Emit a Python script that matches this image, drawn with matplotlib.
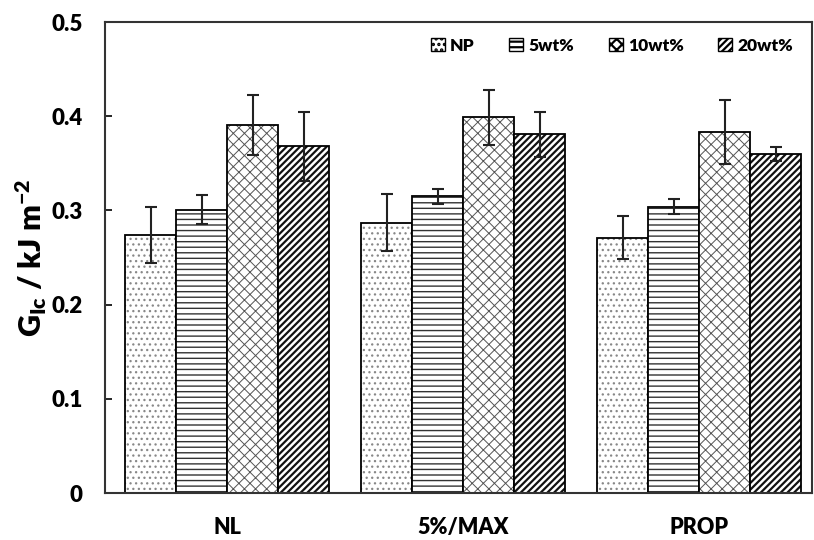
import numpy as np
import matplotlib
matplotlib.use('Agg')
import matplotlib.pyplot as plt

plt.rcParams['font.family'] = ['Lato', 'DejaVu Sans']
plt.rcParams['font.weight'] = 'heavy'
plt.rcParams['mathtext.fontset'] = 'custom'
plt.rcParams['mathtext.rm'] = 'Lato:heavy'
plt.rcParams['mathtext.bf'] = 'Lato:heavy'
plt.rcParams['mathtext.it'] = 'Lato:heavy'

groups = ['NL', '5%/MAX', 'PROP']
series = ['NP', '5wt%', '10wt%', '20wt%']

np_vals = [0.274, 0.287, 0.271]
np_err = [0.030, 0.030, 0.023]
wt5_vals = [0.301, 0.315, 0.304]
wt5_err = [0.015, 0.008, 0.008]
wt10_vals = [0.391, 0.399, 0.383]
wt10_err = [0.032, 0.029, 0.034]
wt20_vals = [0.368, 0.381, 0.360]
wt20_err = [0.037, 0.024, 0.007]

values = [np_vals, wt5_vals, wt10_vals, wt20_vals]
errors = [np_err, wt5_err, wt10_err, wt20_err]
hatches = ['...', '---', 'xxx', '/////']
hatch_cols = ['#888888', '#333333', '#555555', '#111111']
hatch_lws = [0.9, 1.0, 0.7, 1.6]

fig = plt.figure(figsize=(8.14, 5.4), dpi=100)
ax = fig.add_axes([0.129, 0.087, 0.869, 0.872])

x = np.arange(len(groups))
w = 0.216
for i in range(4):
    pos = x + (i - 1.5) * w
    plt.rcParams['hatch.linewidth'] = hatch_lws[i]
    ax.bar(pos, values[i], w, color='white', edgecolor=hatch_cols[i], linewidth=0,
           hatch=hatches[i], label=series[i])
    ax.bar(pos, values[i], w, color='none', edgecolor='black', linewidth=1.3)
    ax.errorbar(pos, values[i], yerr=errors[i], fmt='none', ecolor='#222222',
                elinewidth=1.5, capsize=4, capthick=1.5)

ax.set_xlim(-0.517, 2.48)
ax.set_ylim(0, 0.5)
ax.set_yticks([0, 0.1, 0.2, 0.3, 0.4, 0.5])
ax.set_yticklabels(['0', '0.1', '0.2', '0.3', '0.4', '0.5'])
ax.set_xticks(x)
ax.set_xticklabels(groups)
ax.tick_params(axis='y', direction='in', length=5, width=1.2, labelsize=16, pad=16)
ax.tick_params(axis='x', length=0, labelsize=15.5, pad=17)
for s in ax.spines.values():
    s.set_linewidth(1.5)
    s.set_color('#333333')

ax.set_ylabel('G$_{\\mathrm{Ic}}$ / kJ m$^{\\mathrm{-2}}$', fontsize=22, fontweight='heavy', labelpad=2)

leg = ax.legend(loc='upper right', ncol=4, frameon=False, fontsize=12.5, handlelength=0.8,
                handleheight=0.8, columnspacing=2.0, handletextpad=0.3,
                bbox_to_anchor=(0.995, 1.0))
for p in leg.get_patches():
    p.set_edgecolor('black')
    p.set_linewidth(1.0)

fig.savefig('out.png', dpi=100)
